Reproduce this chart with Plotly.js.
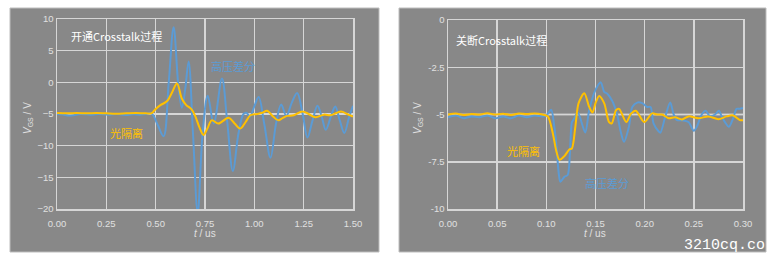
<!DOCTYPE html>
<html>
<head>
<meta charset="utf-8">
<script src="https://cdn.plot.ly/plotly-3.0.1.min.js"></script>
<style>html,body{margin:0;padding:0;background:#fff;}#chart{width:776px;height:262px;}</style>
</head>
<body>
<div id="chart"></div>
<script>
// ---- Left panel: 开通 Crosstalk ----
const onT_hv = [0,0.03,0.06,0.09,0.12,0.15,0.18,0.21,0.24,0.27,0.30,0.33,0.36,0.39,0.42,0.45,0.48,
  0.51,0.54,0.566,0.591,0.615,0.633,0.65,0.667,0.689,0.713,0.738,0.764,0.794,0.836,0.862,0.891,0.92,0.945,0.96,0.978,1.0,1.022,1.05,1.082,1.11,1.136,1.162,1.19,1.217,1.245,1.269,1.295,1.32,1.342,1.362,1.387,1.41,1.433,1.456,1.48,1.5];
const onV_hv = [-5.0,-5.1,-5.25,-5.15,-5.0,-5.05,-5.1,-5.0,-5.05,-5.1,-5.0,-5.1,-5.15,-5.05,-5.1,-5.0,-4.95,
  -6.7,-8.5,-0.1,8.7,-0.5,-4.0,-1.0,3.3,-8.0,-20.6,-8.0,-2.1,-6.5,0.6,-6.0,-14.0,-8.0,-5.0,-4.8,-5.4,-3.8,-2.3,-6.5,-11.9,-6.5,-3.5,-5.3,-3.2,-1.7,-5.0,-8.7,-6.0,-3.7,-5.5,-7.5,-5.5,-3.8,-6.0,-8.0,-5.5,-3.7];
const onT_opt = [0,0.05,0.10,0.15,0.20,0.25,0.30,0.35,0.40,0.45,0.48,0.50,0.524,0.557,0.583,0.608,0.633,0.655,0.68,0.70,0.723,0.742,0.762,0.784,0.818,0.869,0.90,0.929,0.955,0.98,1.014,1.04,1.065,1.092,1.121,1.145,1.167,1.2,1.243,1.275,1.31,1.353,1.387,1.439,1.47,1.5];
const onV_opt = [-4.85,-4.9,-4.85,-4.9,-4.85,-4.9,-4.95,-4.9,-4.85,-4.9,-4.85,-4.2,-3.6,-3.0,-1.6,-0.2,-2.6,-3.6,-4.2,-5.3,-7.2,-8.3,-7.3,-6.0,-6.5,-5.6,-6.5,-7.3,-6.3,-5.2,-5.0,-4.8,-4.5,-5.3,-6.0,-5.6,-5.3,-5.2,-4.6,-5.0,-5.5,-5.1,-5.2,-4.6,-5.0,-5.4];

// ---- Right panel: 关断 Crosstalk ----
const offT_hv = [0,0.008,0.016,0.024,0.032,0.04,0.048,0.056,0.064,0.072,0.08,0.088,0.096,0.1,0.1049,0.108,0.11,0.1126,0.1143,0.1183,0.1217,0.124,0.126,0.1274,0.132,0.1395,0.1436,0.15,0.1554,0.1588,0.162,0.1672,0.172,0.1756,0.179,0.184,0.1874,0.1924,0.1975,0.2025,0.206,0.209,0.2143,0.216,0.221,0.226,0.2295,0.233,0.238,0.2446,0.25,0.253,0.258,0.262,0.2665,0.2716,0.2755,0.2783,0.2816,0.2857,0.29,0.2934,0.2968,0.3];
const offV_hv = [-5.15,-5.05,-5.2,-5.1,-5.15,-5.05,-5.2,-5.1,-5.2,-5.05,-5.15,-5.05,-5.1,-5.05,-4.75,-5.6,-6.5,-8.1,-8.56,-8.3,-8.2,-7.05,-5.4,-5.3,-4.9,-5.95,-4.76,-3.7,-3.3,-3.8,-3.9,-4.3,-5.0,-5.9,-6.44,-5.65,-4.6,-4.37,-4.4,-4.6,-4.6,-5.47,-5.9,-5.96,-5.1,-4.37,-5.0,-5.3,-5.3,-5.4,-5.86,-5.65,-5.0,-4.8,-5.1,-5.0,-4.8,-5.1,-5.4,-5.65,-5.2,-4.7,-4.7,-4.65];
const offT_opt = [0,0.008,0.016,0.024,0.032,0.04,0.048,0.056,0.064,0.072,0.08,0.088,0.096,0.1015,0.1066,0.11,0.1133,0.1184,0.1234,0.126,0.1295,0.1328,0.1386,0.1436,0.147,0.15,0.1537,0.1588,0.1638,0.1665,0.171,0.174,0.1813,0.186,0.191,0.1975,0.2,0.2076,0.2126,0.2177,0.2244,0.231,0.238,0.2446,0.2547,0.2648,0.275,0.2833,0.29,0.2968,0.3];
const offV_opt = [-5.0,-4.95,-5.02,-4.97,-5.0,-4.93,-5.0,-4.96,-5.02,-4.95,-4.98,-4.95,-5.0,-5.1,-6.0,-6.9,-7.4,-7.2,-6.85,-6.8,-5.65,-4.4,-3.88,-4.6,-4.9,-4.4,-4.02,-4.4,-5.4,-5.47,-4.76,-4.7,-5.4,-4.96,-4.8,-5.3,-5.4,-4.94,-5.0,-5.0,-5.2,-5.15,-5.26,-5.1,-5.2,-5.1,-5.25,-5.1,-5.05,-5.3,-5.3];

const leftTicksX = [0,0.25,0.5,0.75,1.0,1.25,1.5];
const leftTickTextX = ['0.00','0.25','0.50','0.75','1.00','1.25','1.50'];
const leftTicksY = [-20,-15,-10,-5,0,5,10];
const rightTicksX = [0,0.05,0.10,0.15,0.20,0.25,0.30];
const rightTickTextX = ['0.00','0.05','0.10','0.15','0.20','0.25','0.30'];
const rightTicksY = [-10,-7.5,-5,-2.5,0];
const rightTickTextY = ['-10','-7.5','-5','-2.5','0'];

const BLUE = '#5b9bd5', GOLD = '#ffc000', BG = '#888888', GRID = '#d6d6d6', TXT = '#e0e0e0';
const W = 776, H = 262;
const px = v => v / W, py = v => 1 - v / H;

const traces = [
  {x: onT_hv, y: onV_hv, xaxis: 'x', yaxis: 'y', mode: 'lines', line: {color: BLUE, width: 2, shape: 'spline', smoothing: 1}, hoverinfo: 'skip'},
  {x: onT_opt, y: onV_opt, xaxis: 'x', yaxis: 'y', mode: 'lines', line: {color: GOLD, width: 2, shape: 'spline', smoothing: 1}, hoverinfo: 'skip'},
  {x: offT_hv, y: offV_hv, xaxis: 'x2', yaxis: 'y2', mode: 'lines', line: {color: BLUE, width: 2, shape: 'spline', smoothing: 0.8}, hoverinfo: 'skip'},
  {x: offT_opt, y: offV_opt, xaxis: 'x2', yaxis: 'y2', mode: 'lines', line: {color: GOLD, width: 2, shape: 'spline', smoothing: 0.8}, hoverinfo: 'skip'}
];

const tickFont = {family: 'Liberation Sans, Arial, sans-serif', size: 9.5, color: TXT};
const axBase = {showgrid: true, gridcolor: GRID, gridwidth: 1.5, showline: true, linecolor: GRID, linewidth: 1.5, mirror: true, zeroline: false, ticks: '', tickfont: tickFont, fixedrange: true};
const xExtra = {ticks: 'outside', ticklen: 5, tickcolor: 'rgba(0,0,0,0)'};

const layout = {
  width: W, height: H,
  margin: {l: 0, r: 0, t: 0, b: 0},
  paper_bgcolor: '#ffffff', plot_bgcolor: BG,
  showlegend: false,
  xaxis: Object.assign({}, axBase, xExtra, {domain: [px(57), px(353)], range: [0, 1.5], tickmode: 'array', tickvals: leftTicksX, ticktext: leftTickTextX, anchor: 'y'}),
  yaxis: Object.assign({}, axBase, {domain: [py(209), py(19)], range: [-20, 10], tickmode: 'array', tickvals: leftTicksY, anchor: 'x'}),
  xaxis2: Object.assign({}, axBase, xExtra, {domain: [px(448), px(743)], range: [0, 0.3], tickmode: 'array', tickvals: rightTicksX, ticktext: rightTickTextX, anchor: 'y2'}),
  yaxis2: Object.assign({}, axBase, {domain: [py(209), py(20)], range: [-10, 0], tickmode: 'array', tickvals: rightTicksY, ticktext: rightTickTextY, anchor: 'x2'}),
  shapes: [
    {type: 'rect', xref: 'paper', yref: 'paper', x0: px(10), x1: px(379), y0: py(252), y1: py(8), fillcolor: BG, line: {width: 1, color: '#bdbdbd'}, layer: 'below'},
    {type: 'rect', xref: 'paper', yref: 'paper', x0: px(399), x1: px(766), y0: py(252), y1: py(8), fillcolor: BG, line: {width: 1, color: '#bdbdbd'}, layer: 'below'},
    {type: 'line', xref: 'x', yref: 'y', x0: 0, x1: 1.5, y0: -5, y1: -5, line: {color: '#ffffff', width: 1.5}, layer: 'below'},
    {type: 'line', xref: 'x2', yref: 'y2', x0: 0, x1: 0.3, y0: -5, y1: -5, line: {color: '#ffffff', width: 1.5}, layer: 'below'}
  ],
  annotations: [
    {xref: 'x', yref: 'y', x: 0.061, y: 7.3, xanchor: 'left', yanchor: 'middle', showarrow: false, text: '开通Crosstalk过程', font: {family: 'Noto Sans CJK SC, sans-serif', size: 11, color: '#ffffff'}},
    {xref: 'x', yref: 'y', x: 0.77, y: 2.6, xanchor: 'left', yanchor: 'middle', showarrow: false, text: '高压差分', font: {family: 'Noto Sans CJK SC, sans-serif', size: 11, color: BLUE}},
    {xref: 'x', yref: 'y', x: 0.258, y: -8.0, xanchor: 'left', yanchor: 'middle', showarrow: false, text: '光隔离', font: {family: 'Noto Sans CJK SC, sans-serif', size: 11, color: GOLD}},
    {xref: 'x2', yref: 'y2', x: 0.006, y: -1.06, xanchor: 'left', yanchor: 'middle', showarrow: false, text: '关断Crosstalk过程', font: {family: 'Noto Sans CJK SC, sans-serif', size: 11, color: '#ffffff'}},
    {xref: 'x2', yref: 'y2', x: 0.058, y: -6.93, xanchor: 'left', yanchor: 'middle', showarrow: false, text: '光隔离', font: {family: 'Noto Sans CJK SC, sans-serif', size: 11, color: GOLD}},
    {xref: 'x2', yref: 'y2', x: 0.137, y: -8.62, xanchor: 'left', yanchor: 'middle', showarrow: false, text: '高压差分', font: {family: 'Noto Sans CJK SC, sans-serif', size: 11, color: BLUE}},
    {xref: 'paper', yref: 'paper', x: px(28), y: py(118), xanchor: 'center', yanchor: 'middle', textangle: -90, showarrow: false, text: '<i>V</i><sub>GS</sub> / V', font: {family: 'Liberation Sans, Arial, sans-serif', size: 10, color: TXT}},
    {xref: 'paper', yref: 'paper', x: px(418), y: py(118), xanchor: 'center', yanchor: 'middle', textangle: -90, showarrow: false, text: '<i>V</i><sub>GS</sub> / V', font: {family: 'Liberation Sans, Arial, sans-serif', size: 10, color: TXT}},
    {xref: 'paper', yref: 'paper', x: px(205), y: py(233), xanchor: 'center', yanchor: 'middle', showarrow: false, text: '<i>t</i> / us', font: {family: 'Liberation Sans, Arial, sans-serif', size: 10, color: TXT}},
    {xref: 'paper', yref: 'paper', x: px(595), y: py(233), xanchor: 'center', yanchor: 'middle', showarrow: false, text: '<i>t</i> / us', font: {family: 'Liberation Sans, Arial, sans-serif', size: 10, color: TXT}},
    {xref: 'paper', yref: 'paper', x: px(767), y: py(245), xanchor: 'right', yanchor: 'middle', showarrow: false, text: '3210cq.co', font: {family: 'Liberation Mono, DejaVu Sans Mono, monospace', size: 15, color: '#ffffff'}}
  ]
};

Plotly.newPlot('chart', traces, layout, {displayModeBar: false, staticPlot: true});
</script>
</body>
</html>
